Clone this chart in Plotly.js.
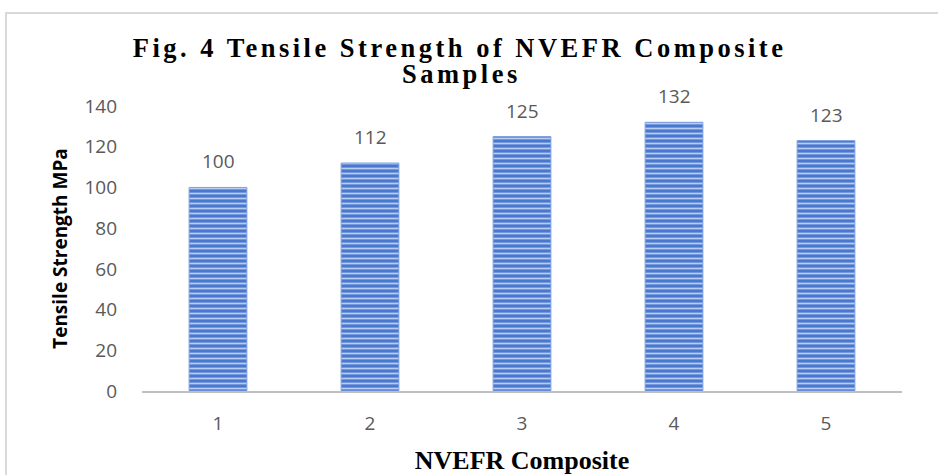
<!DOCTYPE html>
<html><head><meta charset="utf-8">
<script src="https://cdn.plot.ly/plotly-3.0.1.min.js"></script>
<style>
html,body{margin:0;padding:0;background:#fff;overflow:hidden}
#frame{position:absolute;left:5px;top:12px;width:1000px;height:600px;border-left:2px solid #d9d9d9;border-top:2px solid #d9d9d9;}
#chart{position:absolute;left:0;top:0;width:938px;height:475px}
</style></head>
<body>
<div id="frame"></div>
<div id="chart"></div>
<script>
const categories = ['1','2','3','4','5'];
const strength = [100,112,125,132,123];
const labels = strength.map(String);
const yTicks = [0,20,40,60,80,100,120,140];
const titleLine1 = 'Fig. 4 Tensile Strength of NVEFR Composite';
const titleLine2 = 'Samples';

const sp = t => '<span style="letter-spacing:3.5px"><b>' + t + '</b></span>';
const serif = 'Liberation Serif, Times New Roman, serif';
const sans = 'Open Sans, sans-serif';

const trace = {
  type:'bar', x:categories, y:strength,
  width:0.38,
  marker:{color:'#4a78cf', line:{color:'#7fa0e0', width:1},
    pattern:{shape:'-', fgcolor:'#b9cdf0', bgcolor:'#4a78cf', size:5, solidity:0.35}},
  hoverinfo:'none'
};
// category axis: annotation x is the category index
const valueLabels = categories.map((c,i) => ({
  x:i, y:strength[i], text:labels[i], showarrow:false,
  xref:'x', yref:'y', yanchor:'middle', yshift:26,
  font:{family:sans, size:19, color:'#595959'}
}));
const layout = {
  width:938, height:475,
  margin:{l:142, r:36, t:106, b:84},
  paper_bgcolor:'rgba(0,0,0,0)', plot_bgcolor:'rgba(0,0,0,0)',
  showlegend:false,
  title:{text:sp(titleLine1),
    font:{family:serif, size:26.5, color:'#000'},
    x:0.49, xanchor:'center', y:0.899, yanchor:'middle', yref:'container'},
  annotations: valueLabels.concat([{
    text:sp(titleLine2), showarrow:false, xref:'paper', yref:'paper',
    x:0.421, y:1.114, xanchor:'center', yanchor:'middle',
    font:{family:serif, size:26.5, color:'#000'}
  }]),
  xaxis:{type:'category', range:[-0.5,4.5], showgrid:false, showline:true, linecolor:'#bfbfbf', linewidth:2,
    ticks:'', ticklabelstandoff:14,
    tickfont:{family:sans, size:19, color:'#595959'},
    title:{text:'<b>NVEFR Composite</b>', standoff:16,
      font:{family:serif, size:26, color:'#000'}}},
  yaxis:{range:[0,140], tickvals:yTicks, showgrid:false, zeroline:false, showline:false,
    ticks:'', ticklabelstandoff:24,
    tickfont:{family:sans, size:19, color:'#595959'},
    title:{text:'<b>Tensile Strength MPa</b>', standoff:11,
      font:{family:sans, size:19, color:'#000'}}}
};
Plotly.newPlot('chart',[trace],layout,{displayModeBar:false,staticPlot:true});
</script>
</body></html>
